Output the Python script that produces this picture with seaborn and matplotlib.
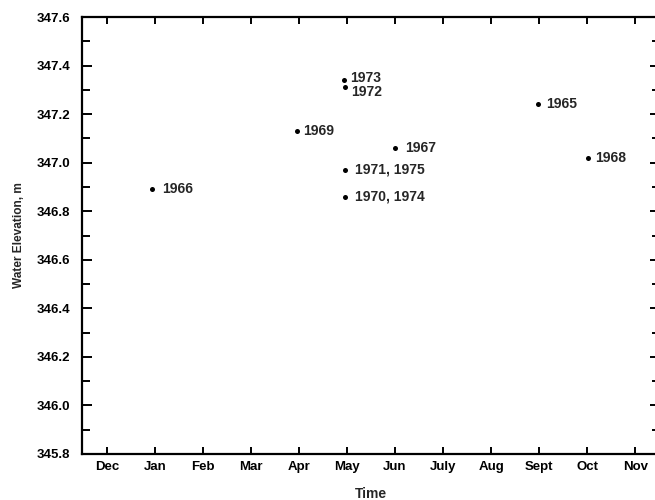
import matplotlib
matplotlib.use("Agg")
import matplotlib.pyplot as plt
import seaborn as sns
import pandas as pd
from matplotlib.ticker import MultipleLocator

months = ["Dec", "Jan", "Feb", "Mar", "Apr", "May", "Jun", "July", "Aug", "Sept", "Oct", "Nov"]
point_month = [0.94, 3.96, 4.94, 4.96, 6.0, 4.96, 4.96, 8.98, 10.02]
point_elev = [346.89, 347.13, 347.34, 347.31, 347.06, 346.97, 346.86, 347.24, 347.02]
point_label = ["1966", "1969", "1973", "1972", "1967", "1971, 1975", "1970, 1974", "1965", "1968"]

label_dx = [7, 4, 4, 4, 7, 7, 7, 6, 5]
label_dy = [0, 0, 1.5, -3.5, 0, 0, 0, 0, 0]

sns.set_style("ticks")
plt.rcParams["font.family"] = ["Liberation Sans", "DejaVu Sans"]

df = pd.DataFrame({"month": point_month, "elev": point_elev, "label": point_label})

fig = plt.figure(figsize=(6.55, 5.0), dpi=100)
ax = fig.add_axes([0.125, 0.092, 0.883, 0.874])
sns.scatterplot(data=df, x="month", y="elev", ax=ax, color="black", s=13,
                edgecolor="black", linewidth=0, legend=False, clip_on=False)
for xv, yv, lab, dx, dy in zip(point_month, point_elev, point_label, label_dx, label_dy):
    ax.annotate(lab, (xv, yv), xytext=(dx, dy), textcoords="offset points",
                ha="left", va="center", fontsize=10, fontweight="bold")

ax.set_xlim(-0.52, 11.52)
ax.set_ylim(345.8, 347.6)
ax.set_xticks(range(len(months)))
ax.set_xticklabels(months)
ax.yaxis.set_major_locator(MultipleLocator(0.2))
ax.yaxis.set_minor_locator(MultipleLocator(0.1))
ax.set_yticklabels([f"{v:.1f}" for v in ax.get_yticks()])
ax.set_ylim(345.8, 347.6)

for s in ["left", "bottom", "top", "right"]:
    ax.spines[s].set_visible(True)
    ax.spines[s].set_linewidth(1.6)
    ax.spines[s].set_color("black")

ax.tick_params(axis="both", which="both", direction="in", colors="black",
               labelsize=9.5, top=True, right=True, width=1.4)
ax.tick_params(axis="y", which="major", length=7, pad=8.5)
ax.tick_params(axis="y", which="minor", length=6)
ax.tick_params(axis="x", which="major", length=5, pad=5)
for lab in ax.get_xticklabels() + ax.get_yticklabels():
    lab.set_fontweight("bold")

ax.set_xlabel("Time", fontsize=10, fontweight="bold", labelpad=10)
ax.set_ylabel("Water Elevation, m", fontsize=8.6, fontweight="bold", labelpad=8)

fig.savefig("out.png", dpi=100)
